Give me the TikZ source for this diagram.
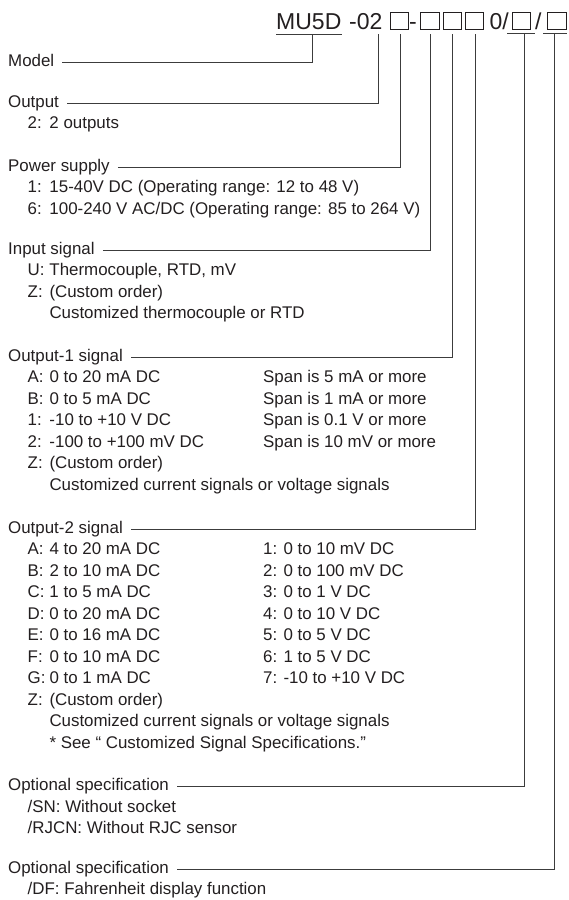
\documentclass[tikz,border=0pt]{standalone}
\usepackage{fontspec}
\setmainfont{Liberation Sans}
\usetikzlibrary{positioning,calc}
\definecolor{ink}{RGB}{35,31,32}
\definecolor{rule}{RGB}{60,60,60}
% code letter, then its meaning at a fixed tab
\newcommand{\itm}[2]{\makebox[21.8pt][l]{#1}#2}

\begin{document}
\begin{tikzpicture}[x=1pt,y=-1pt,
  every node/.style={inner sep=0pt,text=ink},
  hd/.style={anchor=base west,font=\fontsize{23}{27}\selectfont,text depth=4.7pt},
  bx/.style={draw=ink,line width=0.8pt,minimum width=18.5pt,minimum height=17pt,outer ysep=4.5pt},
  lbl/.style={anchor=base west,font=\fontsize{16.9}{20}\selectfont,text height=8pt,text depth=0pt},
  itm/.style={anchor=base west,font=\fontsize{16.9}{20}\selectfont},
  lead/.style={draw=rule,line width=0.8pt,shorten <=8pt}]
\useasboundingbox (0,0) rectangle (569,900);

% model code
\node[hd] (mu) at (276,29.3) {MU5D};
\node[hd] (ot) at (349,29.3) {-02};
\node[bx] (bpow) at (399.5,20.8) {};
\node[hd] (dsh) at (409,29.3) {-};
\node[bx] (bin) at (430,20.8) {};
\node[bx] (bo1) at (452.2,20.8) {};
\node[bx] (bo2) at (474.4,20.8) {};
\node[hd] (zr) at (489.5,29.3) {0/};
\node[bx] (bop1) at (521.5,20.8) {};
\node[hd] (sl) at (535,29.3) {/};
\node[bx] (bop2) at (557,20.8) {};
\draw[rule,line width=0.8pt] (mu.south west) -- (mu.south east);
\draw[rule,line width=0.8pt] ([xshift=-14.5pt]bop1.south) -- ([xshift=13.5pt]bop1.south);
\draw[rule,line width=0.8pt] ([xshift=-14pt]bop2.south) -- ([xshift=10pt]bop2.south);

% headings
\node[lbl] (lmodel) at (8,66) {Model};
\node[lbl] (lout) at (8,107) {Output};
\node[lbl] (lpow) at (8,171) {Power supply};
\node[lbl] (lin) at (8,254) {Input signal};
\node[lbl] (lo1) at (8,361) {Output-1 signal};
\node[lbl] (lo2) at (8,533.3) {Output-2 signal};
\node[lbl] (lop1) at (8,790.7) {Optional specification};
\node[lbl] (lop2) at (8,873) {Optional specification};

\draw[lead] (lmodel.east) -| ([xshift=3.4pt]mu.south);
\draw[lead] (lout.east) -| ([xshift=-4.5pt]ot.south east);
\draw[lead] (lpow.east) -| ([xshift=1.2pt]bpow.south);
\draw[lead] (lin.east) -| (bin.south);
\draw[lead] (lo1.east) -| (bo1.south);
\draw[lead] (lo2.east) -| ([xshift=1pt]bo2.south);
\draw[lead] (lop1.east) -| ([xshift=2.5pt]bop1.south);
\draw[lead] (lop2.east) -| ([xshift=-2.5pt]bop2.south);

% output, power supply, input
\node[itm] (out1) at (27.5,128.5) {\itm{2:}{2 outputs}};
\node[itm] (pow1) at (27.5,192.5) {\itm{1:}{15-40V DC (Operating range: 12 to 48 V)}};
\node[itm] (pow2) at (27.5,214) {\itm{6:}{100-240 V AC/DC (Operating range: 85 to 264 V)}};
\node[itm] (in1) at (27.5,275.5) {\itm{U:}{Thermocouple, RTD, mV}};
\node[itm] (in2) at (27.5,297) {\itm{Z:}{(Custom order)}};
\node[itm] (in3) at (49.3,318.5) {Customized thermocouple or RTD};

% output-1
\foreach \k/\v/\w [count=\i] in {A:/0 to 20 mA DC/Span is 5 mA or more,
    B:/0 to 5 mA DC/Span is 1 mA or more, 1:/-10 to +10 V DC/Span is 0.1 V or more,
    2:/-100 to +100 mV DC/Span is 10 mV or more}
{
  \node[itm] (o1a-\i) at (27.5,361+21.5*\i) {\itm{\k}{\v}};
  \node[itm] (o1b-\i) at (263,361+21.5*\i) {\w};
}
\node[itm] (o1z) at (27.5,468.5) {\itm{Z:}{(Custom order)}};
\node[itm] (o1c) at (49.3,490) {Customized current signals or voltage signals};

% output-2
\foreach \k/\v/\w [count=\i] in {A:/4 to 20 mA DC/1: 0 to 10 mV DC,
    B:/2 to 10 mA DC/2: 0 to 100 mV DC, C:/1 to 5 mA DC/3: 0 to 1 V DC,
    D:/0 to 20 mA DC/4: 0 to 10 V DC, E:/0 to 16 mA DC/5: 0 to 5 V DC,
    F:/0 to 10 mA DC/6: 1 to 5 V DC, G:/0 to 1 mA DC/7: -10 to +10 V DC}
{
  \node[itm] (o2a-\i) at (27.5,533.3+21.5*\i) {\itm{\k}{\v}};
  \node[itm] (o2b-\i) at (263,533.3+21.5*\i) {\w};
}
\node[itm] (o2z) at (27.5,705.3) {\itm{Z:}{(Custom order)}};
\node[itm] (o2c) at (49.3,726.8) {Customized current signals or voltage signals};
\node[itm] (o2n) at (49.3,748.3) {* See “ Customized Signal Specifications.”};

% options
\node[itm] (sn) at (27.5,812.2) {/SN: Without socket};
\node[itm] (rjcn) at (27.5,833.7) {/RJCN: Without RJC sensor};
\node[itm] (df) at (27.5,894.5) {/DF: Fahrenheit display function};
\end{tikzpicture}
\end{document}
